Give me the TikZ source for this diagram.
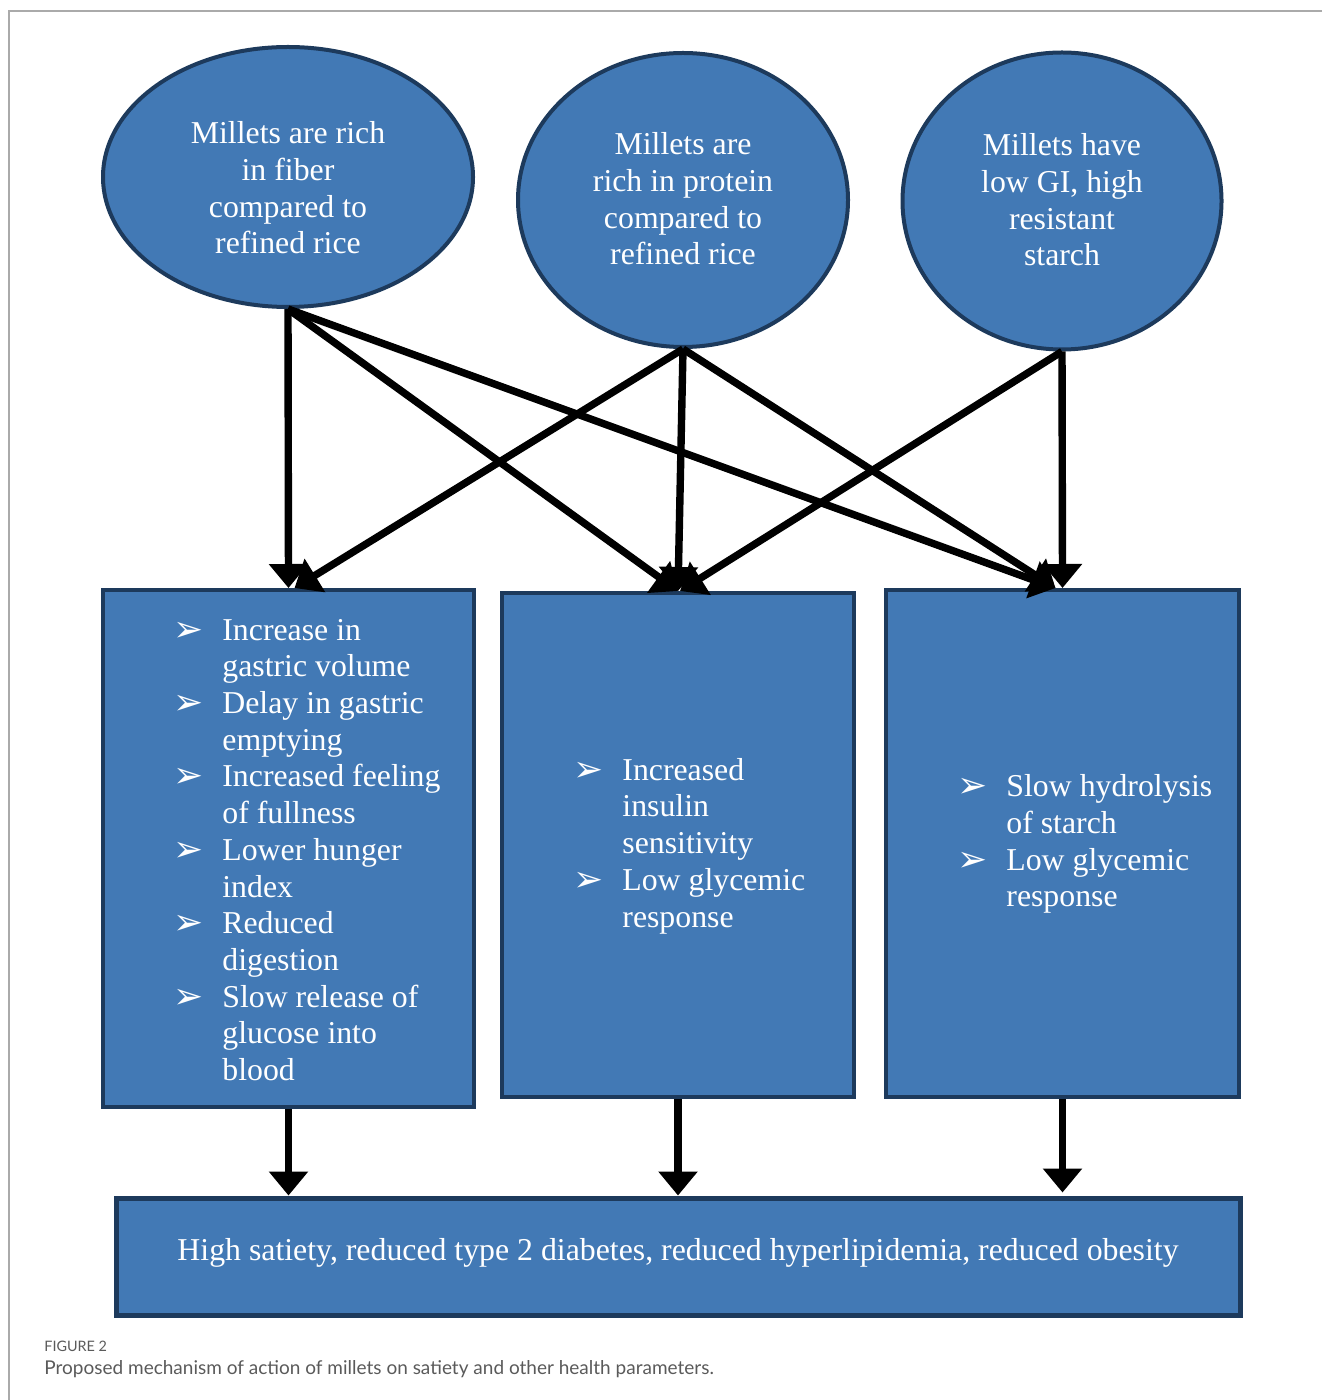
\documentclass[tikz,border=0pt]{standalone}
\usepackage{fontspec}
\setmainfont{Liberation Serif}
\newfontfamily\dvfont{DejaVu Sans}
\newfontfamily\capfont{Lato}
\usetikzlibrary{shapes.geometric,arrows.meta}
\definecolor{fillblue}{HTML}{4279B5}
\definecolor{edgeblue}{HTML}{1D3A5C}
\definecolor{framegray}{HTML}{AAAAAA}
\definecolor{capgray}{HTML}{5A5A5A}
\newcommand\bl{\makebox[23pt][l]{\hspace*{-1.5pt}\dvfont\fontsize{18}{15}\selectfont\raisebox{-0.5pt}{➢}}}
\newcommand\hangsp{\hspace*{23pt}}
\begin{document}
\begin{tikzpicture}[x=0.5pt,y=-0.5pt,
  oval/.style={ellipse,draw=edgeblue,fill=fillblue,line width=2pt,inner sep=0pt},
  panel/.style={rectangle,draw=edgeblue,fill=fillblue,line width=2pt,inner sep=0pt},
  wtxt/.style={text=white,font=\fontsize{15.9}{18.35}\selectfont,inner sep=0pt},
  arr/.style={line width=3.7pt,-{Triangle[length=12pt,width=19pt]}}]
\useasboundingbox (0,0) rectangle (1322,1400);
\draw[framegray,line width=0.6pt] (1322,11) -- (9,11) -- (9,1400);

% ellipses
\node[oval,minimum width=185pt,minimum height=130pt] (e1) at (288,177) {};
\node[oval,minimum width=165pt,minimum height=147pt] (e2) at (683,200) {};
\node[oval,minimum width=159.5pt,minimum height=148.5pt] (e3) at (1062,201) {};
\node[wtxt,align=center] (t1) at (288,188) {Millets are rich\\in fiber\\compared to\\refined rice};
\node[wtxt,align=center] (t2) at (683,199) {Millets are\\rich in protein\\compared to\\refined rice};
\node[wtxt,align=center] (t3) at (1062,200) {Millets have\\low GI, high\\resistant\\starch};

% boxes
\node[panel,minimum width=185.5pt,minimum height=258.5pt] (b1) at (288.5,848.5) {};
\node[panel,minimum width=176pt,minimum height=252pt] (b2) at (678,845) {};
\node[panel,minimum width=176.5pt,minimum height=253.5pt] (b3) at (1062.5,843.5) {};
\node[panel,line width=2.5pt,minimum width=562pt,minimum height=58.5pt] (f) at (678,1256.5) {};

\node[wtxt,align=left,anchor=west] (l1) at (176,850) {\bl Increase in\\\hangsp gastric volume\\\bl Delay in gastric\\\hangsp emptying\\\bl Increased feeling\\\hangsp of fullness\\\bl Lower hunger\\\hangsp index\\\bl Reduced\\\hangsp digestion\\\bl Slow release of\\\hangsp glucose into\\\hangsp blood};
\node[wtxt,align=left,anchor=west] (l2) at (576,846) {\bl Increased\\\hangsp insulin\\\hangsp sensitivity\\\bl Low glycemic\\\hangsp response};
\node[wtxt,align=left,anchor=west] (l3) at (960,844) {\bl Slow hydrolysis\\\hangsp of starch\\\bl Low glycemic\\\hangsp response};
\node[wtxt] (ft) at (678,1253) {High satiety, reduced type 2 diabetes, reduced hyperlipidemia, reduced obesity};

% arrows
\draw[arr] (e1.south) -- (b1.north);
\draw[arr] (e1.south) -- (b2.north);
\draw[arr] (e1.south) -- ([xshift=-3.5pt]b3.north);
\draw[arr] (e2.south) -- ([xshift=3pt]b1.north);
\draw[arr] (e2.south) -- (b2.north);
\draw[arr] (e2.south) -- ([xshift=-3.5pt]b3.north);
\draw[arr] (e3.south) -- ([xshift=1pt]b2.north);
\draw[arr] (e3.south) -- (b3.north);
\draw[arr] (b1.south) -- (b1.south |- f.north);
\draw[arr] (b2.south) -- (b2.south |- f.north);
\draw[arr] (b3.south) -- ([yshift=1.5pt]b3.south |- f.north);

% caption
\node[anchor=west,inner sep=0pt,text=capgray,font=\capfont\fontsize{7.2}{8}\selectfont] (fig) at (44,1346) {FIGURE 2};
\node[anchor=west,inner sep=0pt,text=capgray,font=\capfont\fontsize{9.5}{11}\selectfont] (cap) at (44,1369) {Proposed mechanism of action of millets on satiety and other health parameters.};
\end{tikzpicture}
\end{document}
